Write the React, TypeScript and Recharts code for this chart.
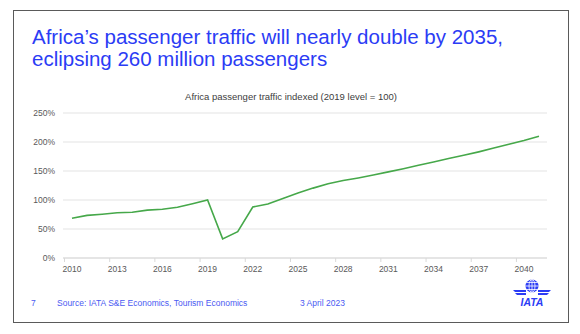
import React from "react";
import { LineChart, Line, XAxis, YAxis, CartesianGrid } from "recharts";

const years: string[] = [
  "2010", "2011", "2012", "2013", "2014", "2015", "2016", "2017", "2018", "2019",
  "2020", "2021", "2022", "2023", "2024", "2025", "2026", "2027", "2028", "2029",
  "2030", "2031", "2032", "2033", "2034", "2035", "2036", "2037", "2038", "2039",
  "2040", "2041",
];

const trafficIndex: number[] = [
  68.5, 73.5, 75.5, 78, 79, 82.5, 84, 87.5, 93.5, 100,
  33, 45.5, 88, 93, 102.5, 112, 120.5, 128, 133.5, 138,
  143, 148.5, 154, 160, 165.5, 171.5, 177, 183, 189.5, 196,
  202.5, 210,
];

const yTicks: number[] = [0, 50, 100, 150, 200, 250];

const titleLines: string[] = [
  "Africa\u2019s passenger traffic will nearly double by 2035,",
  "eclipsing 260 million passengers",
];
const chartTitle = "Africa passenger traffic indexed (2019 level = 100)";
const pageNumber = "7";
const sourceText = "Source: IATA S&E Economics, Tourism Economics";
const dateText = "3 April 2023";
const logoText = "IATA";

const data = years.map((y, i) => ({ year: y, value: trafficIndex[i] }));

const FONT = "'Liberation Sans', Arial, sans-serif";
const BLUE = "#2b3cf5";

const XTick = (props: any) => {
  const { x, y, payload } = props;
  return (
    <g>
      <line x1={x - 7.5} x2={x - 7.5} y1={y - 8} y2={y - 4} stroke="#d9d9d9" strokeWidth={1} />
      <text x={x} y={y} dy="0.71em" textAnchor="middle" fontSize={8.5} fill="#595959" fontFamily={FONT}>
        {payload.value}
      </text>
    </g>
  );
};

export default function App() {
  return (
    <div
      style={{
        position: "absolute",
        left: 0,
        top: 0,
        width: 580,
        height: 334,
        background: "#ffffff",
        overflow: "hidden",
        fontFamily: FONT,
      }}
    >
      <div
        style={{
          position: "absolute",
          left: 13,
          top: 10,
          width: 556,
          height: 313,
          border: "1.5px solid #5a5a5a",
          boxSizing: "border-box",
        }}
      />
      <div
        style={{
          position: "absolute",
          left: 32,
          top: 26,
          fontSize: 20.5,
          lineHeight: "21.5px",
          color: BLUE,
          whiteSpace: "nowrap",
        }}
      >
        {titleLines.map((t, i) => (
          <div key={i}>{t}</div>
        ))}
      </div>
      <div
        style={{
          position: "absolute",
          left: 0,
          width: 582,
          top: 91,
          textAlign: "center",
          fontSize: 9.5,
          color: "#404040",
          whiteSpace: "nowrap",
        }}
      >
        {chartTitle}
      </div>
      <div style={{ position: "absolute", left: 0, top: 0 }}>
        <LineChart
          width={580}
          height={334}
          data={data}
          margin={{ top: 113, right: 33, bottom: 56, left: 23 }}
        >
          <CartesianGrid vertical={false} stroke="#e3e3e3" strokeWidth={1} />
          <XAxis
            dataKey="year"
            interval={2}
            padding={{ left: 9, right: 8 }}
            tickLine={false}
            axisLine={{ stroke: "#d9d9d9" }}
            tick={<XTick />}
            height={20}
          />
          <YAxis
            width={40}
            domain={[0, 250]}
            ticks={yTicks}
            tickFormatter={(v: number) => `${v}%`}
            tickLine={false}
            axisLine={false}
            tick={{ fontSize: 8.5, fill: "#595959", fontFamily: FONT }}
          />
          <Line
            type="linear"
            dataKey="value"
            stroke="#46a84a"
            strokeWidth={1.6}
            dot={false}
            isAnimationActive={false}
          />
        </LineChart>
      </div>
      <div
        style={{
          position: "absolute",
          top: 298,
          left: 31,
          fontSize: 8.5,
          color: "#4a5af2",
          whiteSpace: "nowrap",
        }}
      >
        {pageNumber}
      </div>
      <div
        style={{
          position: "absolute",
          top: 298,
          left: 57,
          fontSize: 8.5,
          color: "#4a5af2",
          whiteSpace: "nowrap",
        }}
      >
        {sourceText}
      </div>
      <div
        style={{
          position: "absolute",
          top: 298,
          left: 300,
          fontSize: 8.5,
          color: "#4a5af2",
          whiteSpace: "nowrap",
        }}
      >
        {dateText}
      </div>
      <svg style={{ position: "absolute", left: 505, top: 276 }} width={55} height={34}>
        <circle cx={27} cy={10} r={6.5} fill={BLUE} />
        <path d="M20.5 10 H33.5 M27 3.5 V16.5 M21.5 6.5 H32.5 M21.5 13.5 H32.5" stroke="#ffffff" strokeWidth={0.8} />
        <ellipse cx={27} cy={10} rx={3} ry={6.5} fill="none" stroke="#ffffff" strokeWidth={0.8} />
        <path d="M8 14 L21 14 L21 16 L10 16 Z M10 17 L21 17 L21 19 L12 19 Z" fill={BLUE} />
        <path d="M46 14 L33 14 L33 16 L44 16 Z M44 17 L33 17 L33 19 L42 19 Z" fill={BLUE} />
        <text
          x={27}
          y={30}
          textAnchor="middle"
          fontSize={10.5}
          fontWeight="bold"
          fontStyle="italic"
          fill={BLUE}
          fontFamily={FONT}
        >
          {logoText}
        </text>
      </svg>
    </div>
  );
}
